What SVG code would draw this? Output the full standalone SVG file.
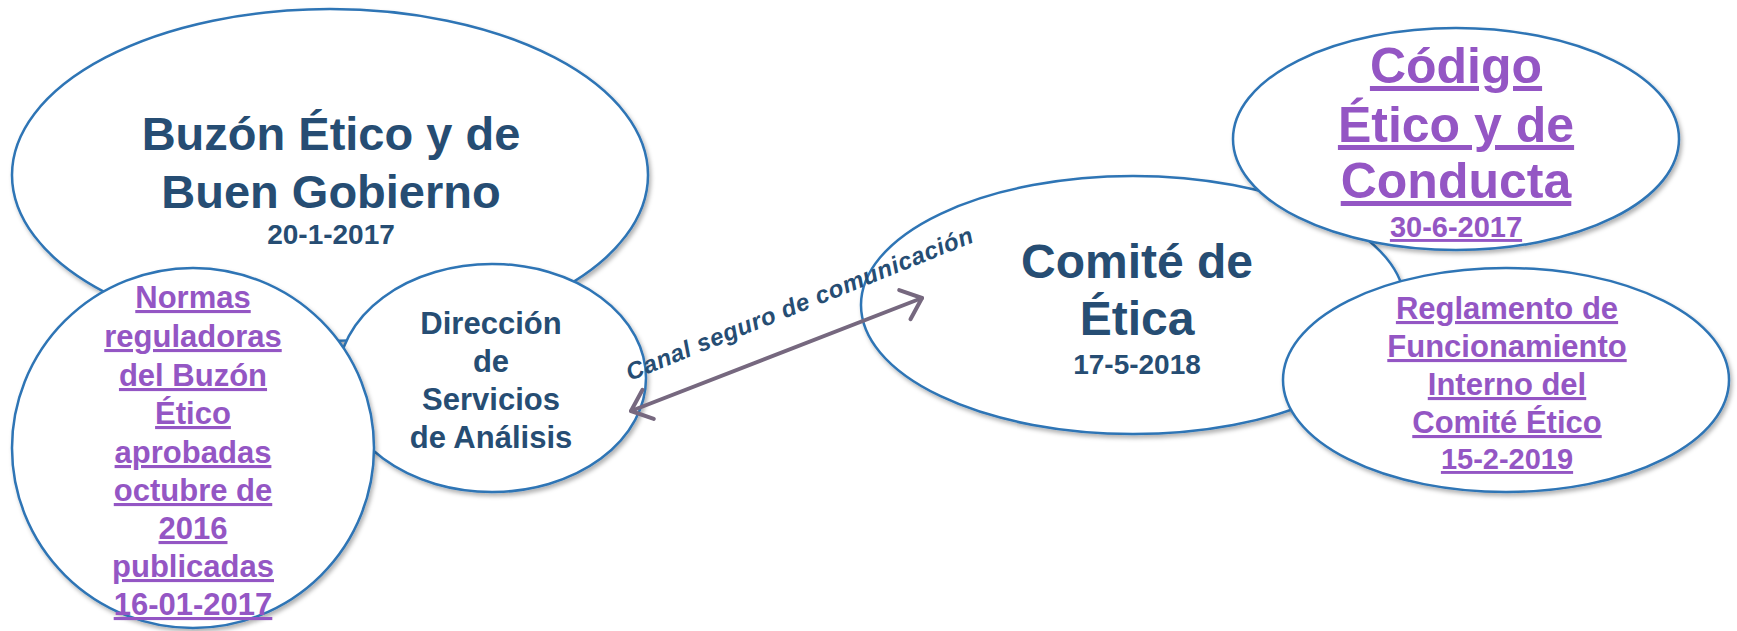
<svg xmlns="http://www.w3.org/2000/svg" width="1737" height="631" viewBox="0 0 1737 631">
<style>
.node{fill:#ffffff;stroke:#2E74B5;stroke-width:2.5;filter:url(#sh)}
.t{font-family:"Liberation Sans",Arial,sans-serif;font-weight:bold;text-anchor:middle;fill:#264D73}
.p{font-family:"Liberation Sans",Arial,sans-serif;font-weight:bold;text-anchor:middle;fill:#9456C4;text-decoration:underline}
.big{font-size:47px}
.mid{font-size:31px}
.date{font-size:28px}
.conn{fill:none;stroke:#76687F;stroke-width:4;stroke-linecap:round}
.lbl{font-family:"Liberation Sans",Arial,sans-serif;font-style:italic;font-weight:bold;font-size:24px;fill:#264D73}
</style>
<defs>
<filter id="sh" x="-10%" y="-10%" width="125%" height="130%">
<feDropShadow dx="2" dy="3" stdDeviation="2" flood-color="#000" flood-opacity="0.3"/>
</filter>
<marker id="ah" viewBox="-8 -6 10 12" markerWidth="10" markerHeight="12" refX="0" refY="0" orient="auto-start-reverse" overflow="visible">
<path d="M -4.6 -3.9 L 0 0 L -4.6 3.9" fill="none" stroke="#76687F" stroke-width="1" stroke-linecap="round" stroke-linejoin="round"/>
</marker>
</defs>
<rect width="1737" height="631" fill="#ffffff"/>
<g id="buzon">
<ellipse class="node" cx="330" cy="175" rx="318" ry="166"/>
<text class="t big" x="331" y="150">Buzón Ético y de</text>
<text class="t big" x="331" y="208">Buen Gobierno</text>
<text class="t date" x="331" y="244">20-1-2017</text>
</g>
<g id="direccion">
<ellipse class="node" cx="492" cy="378" rx="154" ry="114"/>
<text class="t mid" x="491" y="334">Dirección</text>
<text class="t mid" x="491" y="372">de</text>
<text class="t mid" x="491" y="410">Servicios</text>
<text class="t mid" x="491" y="448">de Análisis</text>
</g>
<g id="normas">
<ellipse class="node" cx="193" cy="448" rx="181" ry="180"/>
<text class="p" font-size="31" x="193" y="308">Normas</text>
<text class="p" font-size="31" x="193" y="347">reguladoras</text>
<text class="p" font-size="31" x="193" y="386">del Buzón</text>
<text class="p" font-size="31" x="193" y="424">Ético</text>
<text class="p" font-size="31" x="193" y="463">aprobadas</text>
<text class="p" font-size="31" x="193" y="501">octubre de</text>
<text class="p" font-size="31" x="193" y="539">2016</text>
<text class="p" font-size="31" x="193" y="577">publicadas</text>
<text class="p" font-size="31" x="193" y="615">16-01-2017</text>
</g>
<g id="comite">
<ellipse class="node" cx="1133" cy="305" rx="272" ry="129"/>
<text class="t" font-size="48" x="1137" y="278">Comité de</text>
<text class="t" font-size="48" x="1137" y="335">Ética</text>
<text class="t date" x="1137" y="374">17-5-2018</text>
</g>
<g id="reglamento">
<ellipse class="node" cx="1506" cy="380" rx="223" ry="112"/>
<text class="p" font-size="31" x="1507" y="319">Reglamento de</text>
<text class="p" font-size="31" x="1507" y="357">Funcionamiento</text>
<text class="p" font-size="31" x="1507" y="395">Interno del</text>
<text class="p" font-size="31" x="1507" y="433">Comité Ético</text>
<text class="p" font-size="29" x="1507" y="469">15-2-2019</text>
</g>
<g id="codigo">
<ellipse class="node" cx="1456" cy="139" rx="223" ry="111"/>
<text class="p" font-size="50" x="1456" y="83">Código</text>
<text class="p" font-size="50" x="1456" y="142">Ético y de</text>
<text class="p" font-size="50" x="1456" y="198">Conducta</text>
<text class="p" font-size="29" x="1456" y="237">30-6-2017</text>
</g>
<g id="connectors">
<line class="conn" x1="631" y1="411" x2="922" y2="298" marker-start="url(#ah)" marker-end="url(#ah)"/>
<text class="lbl" transform="translate(630,381) rotate(-22)" x="0" y="0" textLength="372" lengthAdjust="spacing">Canal seguro de comunicación</text>
</g>
</svg>
